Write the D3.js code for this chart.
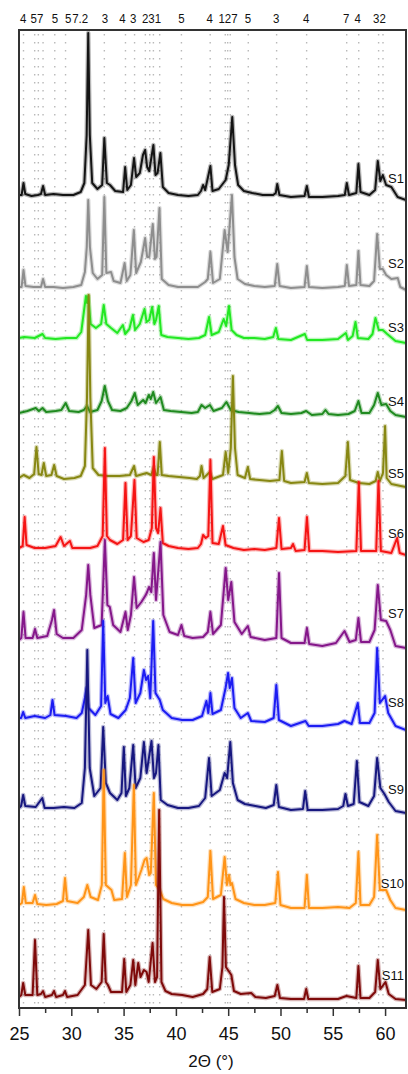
<!DOCTYPE html>
<html>
<head>
<meta charset="utf-8">
<script src="https://cdn.jsdelivr.net/npm/d3@7"></script>
<style>
  body { margin: 0; background: #fff; }
  text { font-family: "Liberation Sans", Arial, sans-serif; fill: #111; }
</style>
</head>
<body>
<div id="chart"></div>
<script>
// sample names, colours, stacking offsets (a.u.) and label heights above the baseline
var sampleNames = ["S1","S2","S3","S4","S5","S6","S7","S8","S9","S10","S11"];
var sampleColors = ["#141414","#8e8e8e","#22e822","#1f8a1f","#878712","#f51414",
                    "#85178a","#1c1cf2","#17177f","#ff9418","#7e0a0a"];
var offsets = [813, 721, 670, 595, 530, 460, 368, 290, 200, 103, 11];
var labelAt = [17, 24, 11, 12, 5, 15, 27, 16, 19, 22, 22];

// diffraction patterns: [2theta, intensity above own baseline]
var s1 = [[25,0],[25.25,0],[25.43,12],[25.6,1],[26.2,-1],[26.8,0],[27.1,1],[27.3,9],[27.5,0],[28.3,1],[29.2,0],[30.2,0],[30.9,3],[31.25,12],[31.47,60],[31.62,162],[31.77,60],[32.0,12],[32.5,6],[32.95,10],[33.16,57],[33.4,12],[33.7,10],[34.2,4],[34.95,3],[35.15,28],[35.35,5],[35.7,10],[36.0,37],[36.2,18],[36.55,22],[36.85,40],[37.06,45],[37.25,28],[37.45,24],[37.85,50],[38.05,20],[38.25,22],[38.52,42],[38.75,8],[39.3,2],[40.2,0],[41.2,-1],[42.1,0],[42.4,4],[42.6,10],[42.8,5],[43.3,29],[43.5,4],[44.1,6],[44.76,15],[45.05,30],[45.39,78],[45.65,30],[45.95,10],[46.5,4],[47.3,2],[48.3,0],[49.3,0],[49.55,2],[49.69,11],[49.9,0],[51,-2],[52.3,-1],[52.52,9],[52.72,-2],[54,-2],[55.5,-1],[56.15,0],[56.34,12],[56.55,0],[57.25,2],[57.45,31],[57.65,3],[58.5,0],[59.05,5],[59.3,34],[59.55,14],[59.78,20],[60.1,10],[60.6,8],[61.2,-2],[62,-5]];
var s2 = [[25,0],[25.25,0],[25.43,17],[25.62,1],[26.4,0],[27.1,0],[27.3,8],[27.5,0],[28.3,0],[29.2,-1],[30.2,0],[30.95,2],[31.3,15],[31.48,40],[31.62,87],[31.78,40],[32.05,14],[32.5,8],[32.95,12],[33.16,90],[33.35,14],[33.8,15],[34.05,6],[34.7,4],[35.1,24],[35.3,6],[35.65,12],[35.98,57],[36.2,14],[36.65,25],[37.06,49],[37.25,30],[37.45,30],[37.79,63],[38.0,28],[38.15,30],[38.43,79],[38.65,8],[39.3,2],[40.2,0],[41.2,0],[42.1,0],[42.8,5],[43.05,8],[43.3,35],[43.55,4],[44.2,8],[44.66,57],[44.95,35],[45.36,92],[45.6,30],[45.9,8],[46.6,3],[47.5,1],[48.5,0],[49.45,1],[49.69,23],[49.92,1],[51,-1],[52.3,0],[52.52,21],[52.72,0],[54,-1],[55.5,0],[56.15,1],[56.34,22],[56.55,1],[57.25,2],[57.45,36],[57.65,2],[58.5,1],[58.95,6],[59.24,53],[59.5,18],[59.78,18],[60.1,12],[60.6,8],[61.21,9],[61.45,0],[62,-3]];
var s3 = [[25,0],[25.5,1],[26.5,0],[27.25,4],[27.5,0],[28.5,-1],[29.5,0],[30.5,0],[30.95,6],[31.25,30],[31.4,42],[31.52,35],[31.62,42],[31.85,14],[32.35,10],[32.85,14],[33.1,33],[33.35,14],[33.8,10],[34.4,5],[34.93,13],[35.15,4],[35.55,9],[35.89,23],[36.1,8],[36.55,14],[37.0,29],[37.2,16],[37.45,18],[37.73,31],[37.95,14],[38.1,18],[38.36,32],[38.6,3],[39.2,1],[40.2,0],[41.2,-1],[42.2,0],[42.8,3],[43.17,21],[43.42,3],[44.1,6],[44.57,19],[44.8,12],[45.08,32],[45.33,8],[45.8,3],[46.5,0],[47.5,0],[48.5,-1],[49.3,1],[49.56,10],[49.8,-1],[51,-2],[52.33,4],[52.55,-2],[54,-2],[55.5,-1],[56.25,5],[56.45,-2],[56.9,2],[57.17,16],[57.4,0],[58.4,-1],[58.8,4],[59.08,20],[59.4,8],[59.78,8],[60.2,4],[61,-3],[62,-5]];
var s4 = [[25,0],[25.8,2],[26.6,5],[26.9,2],[27.25,5],[27.6,1],[28.5,2],[29.05,3],[29.46,10],[29.8,2],[30.7,1],[31.2,3],[31.5,7],[31.8,1],[32.5,3],[32.9,12],[33.2,27],[33.5,12],[33.9,3],[34.7,2],[35.3,5],[35.75,12],[36.07,20],[36.35,8],[36.87,13],[37.1,10],[37.41,18],[37.6,14],[37.83,21],[38.1,10],[38.53,16],[38.85,3],[39.5,2],[40.5,1],[41.5,0],[42.1,1],[42.45,8],[42.8,5],[43.25,8],[43.6,2],[44.4,5],[44.83,11],[45.25,3],[46,1],[47,0],[48,-1],[49,0],[49.45,3],[49.76,7],[50.1,0],[51,-1],[52,0],[52.45,2],[53,-2],[54.0,-1],[54.3,3],[54.6,-1],[55.5,-2],[56.5,-1],[57.1,2],[57.45,12],[57.75,0],[58.5,0],[58.95,8],[59.3,20],[59.65,8],[60.1,9],[60.5,2],[61,-2],[62,-4]];
var s5 = [[25,0],[25.45,3],[26.0,0],[26.45,4],[26.67,31],[26.88,4],[27.15,3],[27.37,15],[27.6,2],[28.1,3],[28.36,13],[28.6,2],[29.3,-1],[30.3,0],[30.9,2],[31.3,12],[31.5,80],[31.66,183],[31.82,80],[32.05,10],[32.6,3],[33.5,2],[34.6,2],[35.6,3],[36.0,12],[36.2,2],[37.2,5],[37.65,3],[37.89,11],[38.1,3],[38.25,3],[38.46,36],[38.65,3],[39.3,2],[40.3,1],[41.3,0],[42.0,-1],[42.3,2],[42.45,12],[42.65,0],[43.25,6],[43.5,-1],[44.5,3],[44.76,26],[45.0,5],[45.25,30],[45.45,102],[45.65,30],[45.9,3],[46.6,0],[46.88,11],[47.1,-1],[48,-2],[49,-3],[49.9,-2],[50.13,27],[50.35,-3],[51,-5],[52.3,-4],[52.52,5],[52.72,-5],[54,-6],[55.5,-5],[56.2,2],[56.44,36],[56.65,-2],[57.5,-5],[58.5,-6],[59.1,-3],[59.3,6],[59.5,-3],[59.8,5],[60.0,52],[60.15,0],[60.6,-6],[61.5,-8],[62,-9]];
var s6 = [[25,0],[25.35,2],[25.54,31],[25.72,3],[26.5,0],[27.5,0],[28.5,2],[28.98,11],[29.3,2],[29.87,7],[30.1,0],[30.8,0],[31.8,0],[32.5,2],[33.0,12],[33.21,100],[33.4,12],[33.7,8],[34.4,4],[34.95,8],[35.18,65],[35.38,8],[35.7,12],[36.04,68],[36.25,10],[36.9,6],[37.4,8],[37.7,20],[37.89,91],[38.1,20],[38.3,15],[38.53,40],[38.75,5],[39.3,2],[40.2,0],[41.2,-1],[42.1,0],[42.4,4],[42.6,13],[42.85,10],[43.1,12],[43.3,88],[43.5,5],[44.1,4],[44.5,22],[44.75,3],[45.5,0],[46.5,-2],[47.5,-1],[48.5,-2],[49.6,0],[49.86,30],[50.1,-1],[51.0,0],[51.2,4],[51.45,-3],[52.3,-2],[52.53,31],[52.75,-3],[54,-3],[55.5,-4],[57.25,-3],[57.49,66],[57.7,-3],[59.15,-3],[59.37,67],[59.6,-3],[60.6,-5],[61.15,10],[61.4,-5],[62,-7]];
var s7 = [[25,0],[25.22,2],[25.43,28],[25.63,2],[26.3,2],[26.53,11],[26.75,2],[27.7,4],[28.15,20],[28.35,30],[28.6,6],[29.2,2],[30.2,2],[31.0,10],[31.42,45],[31.62,75],[31.82,45],[32.2,12],[32.9,15],[33.21,100],[33.45,35],[33.68,33],[34.0,15],[34.7,8],[35.18,28],[35.4,10],[35.7,25],[36.0,63],[36.25,32],[36.7,38],[37.12,45],[37.25,48],[37.43,53],[37.65,48],[37.89,87],[38.1,40],[38.53,98],[38.8,25],[39.4,8],[40.2,5],[40.53,15],[40.8,4],[41.6,2],[42.6,3],[43.05,8],[43.3,28],[43.55,6],[44.3,15],[44.76,72],[45.0,40],[45.3,58],[45.6,18],[46.3,6],[46.88,14],[47.15,3],[48.5,0],[49.6,2],[49.86,67],[50.1,2],[51,-3],[52.3,-3],[52.53,12],[52.75,-4],[54,-6],[55.3,-3],[56.12,9],[56.6,-2],[57.2,0],[57.45,22],[57.7,-2],[58.5,-2],[59.0,10],[59.3,55],[59.6,20],[60.1,19],[60.5,10],[61,-6],[62,-8]];
var s8 = [[25,0],[25.2,0],[25.4,6],[25.6,0],[26.5,2],[27.5,0],[28.0,3],[28.2,18],[28.4,3],[29.5,2],[30.5,0],[31.0,5],[31.3,20],[31.46,30],[31.65,10],[32.3,3],[32.85,12],[33.05,97],[33.25,15],[33.47,22],[33.75,4],[34.5,0],[35.2,8],[35.6,20],[35.92,60],[36.15,15],[36.6,25],[36.94,48],[37.15,38],[37.35,42],[37.55,20],[37.83,97],[38.05,25],[38.46,18],[38.75,8],[39.6,0],[40.6,-2],[41.6,-2],[42.5,2],[42.92,17],[43.1,5],[43.3,25],[43.5,4],[44.3,8],[44.75,30],[44.99,45],[45.15,30],[45.36,40],[45.6,10],[46.2,0],[46.88,5],[47.2,-3],[48.5,-4],[49.35,0],[49.6,33],[49.85,-2],[51,-8],[52.39,-3],[52.7,-8],[54,-8],[55.5,-6],[56.12,-3],[56.8,-6],[57.39,15],[57.6,-5],[58.5,-5],[59.0,5],[59.24,70],[59.5,15],[60.0,22],[60.3,5],[61,-8],[62,-12]];
var s9 = [[25,0],[25.2,2],[25.4,13],[25.6,2],[26.6,1],[27.23,10],[27.45,0],[28.3,0],[29.3,1],[30.3,0],[31.0,5],[31.3,40],[31.53,158],[31.76,40],[32.2,12],[32.8,20],[33.05,81],[33.3,25],[33.7,15],[34.4,8],[34.8,15],[35.02,61],[35.22,12],[35.55,20],[35.92,63],[36.15,20],[36.6,30],[36.94,66],[37.2,35],[37.67,67],[37.9,30],[38.1,35],[38.33,63],[38.55,8],[39.2,3],[40.2,0],[41.2,0],[42.2,2],[42.8,10],[43.17,50],[43.42,12],[44.2,18],[44.66,35],[44.9,30],[45.2,66],[45.45,25],[45.9,8],[46.6,4],[47.6,2],[48.6,0],[49.35,3],[49.6,23],[49.85,1],[51,-2],[52.15,-1],[52.36,17],[52.6,-2],[54,-2],[55.5,-1],[56.0,2],[56.21,14],[56.45,2],[57.0,4],[57.3,47],[57.55,6],[58.4,2],[58.95,12],[59.24,50],[59.55,20],[59.94,14],[60.35,6],[61,-3],[62,-5]];
var s10 = [[25,0],[25.28,2],[25.46,18],[25.65,2],[26.3,2],[26.53,10],[26.75,1],[27.6,0],[28.6,1],[29.2,4],[29.4,27],[29.6,4],[30.6,2],[31.2,8],[31.53,20],[31.85,8],[32.55,5],[32.92,20],[33.1,135],[33.3,20],[33.84,15],[34.1,5],[34.85,6],[35.12,52],[35.32,8],[35.7,20],[35.98,120],[36.18,20],[36.7,35],[37.0,45],[37.2,47],[37.45,30],[37.6,32],[37.89,112],[38.1,20],[38.46,15],[38.8,6],[39.6,2],[40.6,0],[41.6,0],[42.6,3],[43.05,8],[43.3,54],[43.55,6],[44.3,10],[44.66,48],[44.88,20],[45.08,30],[45.22,20],[45.36,22],[45.7,6],[46.5,2],[47.5,0],[48.5,0],[49.5,2],[49.76,33],[50.0,0],[51,-3],[52.3,-3],[52.52,30],[52.72,-3],[54,-3],[55.5,-2],[56.6,-3],[57.2,2],[57.45,53],[57.65,0],[58.5,0],[58.95,8],[59.24,70],[59.5,15],[60.1,15],[60.5,5],[61,-3],[62,-5]];
var s11 = [[25,0],[25.22,2],[25.4,14],[25.6,2],[26.3,2],[26.53,57],[26.75,2],[27.1,3],[27.3,6],[27.5,0],[28.15,2],[28.35,6],[28.55,0],[29.2,2],[29.4,6],[29.6,0],[30.6,2],[31.3,12],[31.62,67],[31.88,12],[32.4,8],[32.9,15],[33.1,63],[33.3,15],[33.5,12],[33.8,5],[34.85,5],[35.06,38],[35.26,5],[35.65,12],[35.92,37],[36.12,12],[36.4,34],[36.62,20],[36.94,27],[37.2,25],[37.4,15],[37.77,54],[38.0,15],[38.2,20],[38.4,187],[38.62,15],[39.0,6],[39.6,3],[40.6,2],[41.6,0],[42.6,3],[43.0,8],[43.23,40],[43.48,5],[44.2,8],[44.45,30],[44.6,100],[44.78,30],[45.3,22],[45.55,6],[46.2,3],[47.2,4],[47.6,0],[48.6,-1],[49.45,1],[49.7,12],[49.95,-1],[51,-2],[52.25,-2],[52.46,8],[52.66,-2],[54,-2],[55.5,-2],[56.3,1],[57.25,-1],[57.45,31],[57.65,-1],[58.5,-1],[59.05,5],[59.3,37],[59.55,8],[60.04,15],[60.35,3],[61,-2],[62,-3]];
var patterns = [s1, s2, s3, s4, s5, s6, s7, s8, s9, s10, s11];

// reference reflections (dotted guides) and the phase numbers printed above them
var guideAngles = [25.43, 26.5, 26.85, 27.3, 28.42, 29.45, 33.16, 35.18, 36.05, 37.08, 37.5,
                   37.85, 38.45, 40.53, 43.28, 44.72, 44.95, 45.2, 46.92, 49.63, 52.5, 56.33,
                   57.48, 59.38, 59.8];
var phaseLabels = ["4","57","5","5","7.2","3","4","3","231","5","4","127","5","3","4","7","4","32"];
var phaseAt = [25.41, 26.72, 28.44, 29.71, 30.85, 33.21, 34.9, 35.91, 37.67, 40.53, 43.23,
               44.98, 46.89, 49.6, 52.46, 56.28, 57.39, 59.46];

var xTicks = [25, 30, 35, 40, 45, 50, 55, 60];
var xMinorTicks = [27.5, 32.5, 37.5, 42.5, 47.5, 52.5, 57.5];

var w = 408, h = 1074;
var plotLeft = 19, plotRight = 406, plotTop = 30, plotBottom = 1008;

var xScale = d3.scaleLinear().domain([25, 62]).range([plotLeft, plotRight]);
var yScale = d3.scaleLinear().domain([0, 978]).range([plotBottom, plotTop]);

var svg = d3.select("#chart").append("svg")
  .attr("width", w)
  .attr("height", h);

svg.append("clipPath")
  .attr("id", "plot-area")
  .append("rect")
  .attr("x", plotLeft)
  .attr("y", plotTop)
  .attr("width", plotRight - plotLeft)
  .attr("height", plotBottom - plotTop);

// dotted guide lines
svg.append("g")
  .selectAll("line")
  .data(guideAngles)
  .enter().append("line")
  .attr("x1", function(d) { return xScale(d); })
  .attr("x2", function(d) { return xScale(d); })
  .attr("y1", plotTop + 4)
  .attr("y2", plotBottom)
  .attr("stroke", "#b9b9b9")
  .attr("stroke-width", 1.4)
  .attr("stroke-dasharray", "1.5,6.5");

// traces, top sample first so lower ones sit over it
var plot = svg.append("g").attr("clip-path", "url(#plot-area)");

patterns.forEach(function(pattern, i) {
  var line = d3.line()
    .x(function(d) { return xScale(d[0]); })
    .y(function(d) { return yScale(offsets[i] + d[1]); });

  plot.append("path")
    .datum(pattern)
    .attr("fill", "none")
    .attr("stroke", sampleColors[i])
    .attr("stroke-opacity", 0.3)
    .attr("stroke-width", 4.5)
    .attr("stroke-linejoin", "round")
    .attr("d", line);

  plot.append("path")
    .datum(pattern)
    .attr("fill", "none")
    .attr("stroke", sampleColors[i])
    .attr("stroke-width", 2)
    .attr("stroke-linejoin", "round")
    .attr("d", line);
});

// sample labels
svg.append("g")
  .selectAll("text")
  .data(sampleNames)
  .enter().append("text")
  .attr("x", 404)
  .attr("y", function(d, i) { return yScale(offsets[i] + labelAt[i]); })
  .attr("dy", "0.35em")
  .attr("text-anchor", "end")
  .attr("font-size", 13)
  .text(function(d) { return d; });

// frame
svg.append("rect")
  .attr("x", plotLeft)
  .attr("y", plotTop)
  .attr("width", plotRight - plotLeft)
  .attr("height", plotBottom - plotTop)
  .attr("fill", "none")
  .attr("stroke", "#333")
  .attr("stroke-width", 2);

// phase numbers above the frame (set a little narrow, like the original)
svg.append("g")
  .selectAll("text")
  .data(phaseLabels)
  .enter().append("text")
  .attr("transform", function(d, i) {
    return "translate(" + xScale(phaseAt[i]) + ",23) scale(0.85,1)";
  })
  .attr("text-anchor", "middle")
  .attr("font-size", 13.5)
  .text(function(d) { return d; });

// x axis
var xAxis = d3.axisBottom(xScale).tickValues(xTicks).tickSize(8).tickPadding(11);
var xAxisMinor = d3.axisBottom(xScale).tickValues(xMinorTicks).tickSize(5).tickFormat("");

var gx = svg.append("g")
  .attr("transform", "translate(0," + plotBottom + ")")
  .call(xAxis);
gx.select(".domain").remove();
gx.selectAll("line").attr("stroke", "#333").attr("stroke-width", 1.5);
gx.selectAll("text")
  .attr("font-size", 18)
  .attr("font-family", "Liberation Sans, Arial, sans-serif")
  .attr("fill", "#111");

var gm = svg.append("g")
  .attr("transform", "translate(0," + plotBottom + ")")
  .call(xAxisMinor);
gm.select(".domain").remove();
gm.selectAll("line").attr("stroke", "#333").attr("stroke-width", 1.5);

svg.append("text")
  .attr("x", 211)
  .attr("y", 1067)
  .attr("text-anchor", "middle")
  .attr("font-size", 17)
  .text("2Θ (°)");
</script>
</body>
</html>
